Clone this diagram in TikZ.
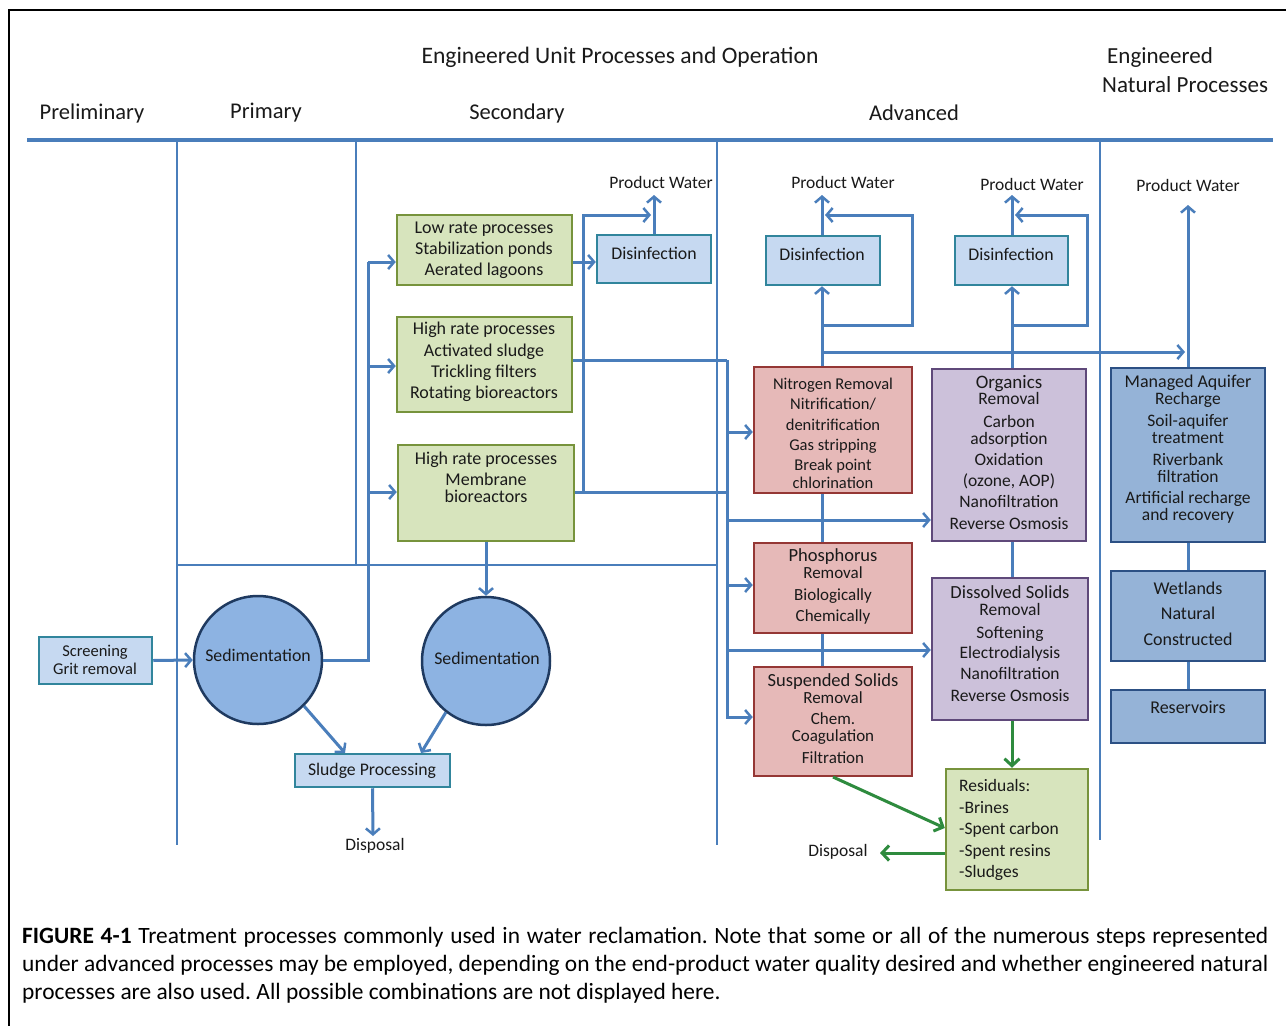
\documentclass[tikz,border=0pt]{standalone}
\usepackage{fontspec}
\setmainfont{Carlito}
\usetikzlibrary{arrows.meta}
\definecolor{wirec}{HTML}{4A7EBB}
\definecolor{grnfill}{HTML}{D7E4BD}
\definecolor{grndraw}{HTML}{77933C}
\definecolor{redfill}{HTML}{E6B9B8}
\definecolor{reddraw}{HTML}{953735}
\definecolor{purfill}{HTML}{CCC1DA}
\definecolor{purdraw}{HTML}{5F497A}
\definecolor{natfill}{HTML}{95B3D7}
\definecolor{natdraw}{HTML}{2C5084}
\definecolor{disfill}{HTML}{C6D9F1}
\definecolor{disdraw}{HTML}{31859C}
\definecolor{sedfill}{HTML}{8DB3E2}
\definecolor{seddraw}{HTML}{1F3A60}
\definecolor{resarr}{HTML}{2E8B3E}
\definecolor{txtc}{HTML}{1A1A1A}
\newcommand\myfs[2]{\fontsize{#1}{#2}\selectfont}
\frenchspacing
\begin{document}
\begin{tikzpicture}[x=1pt,y=-1pt,
  wire/.style={draw=wirec,line width=3pt},
  rulerline/.style={draw=wirec,line width=2.5pt},
  arr/.style={wire,-{Straight Barb[length=6pt,width=14pt,line width=2.5pt]}},
  garr/.style={draw=resarr,line width=3pt,-{Straight Barb[length=7pt,width=15pt,line width=3pt]}},
  box/.style 2 args={draw,line width=2.5pt,inner sep=0pt,minimum width=#1pt,minimum height=#2pt},
  grnbox/.style={fill=grnfill,draw=grndraw},
  redbox/.style={fill=redfill,draw=reddraw},
  purbox/.style={fill=purfill,draw=purdraw},
  natbox/.style={fill=natfill,draw=natdraw},
  disbox/.style={fill=disfill,draw=disdraw},
  sedc/.style={circle,draw=seddraw,fill=sedfill,line width=2.5pt,minimum size=128pt,inner sep=0pt},
  tx/.style={align=center,inner sep=0pt,text=txtc},
  hd/.style={inner sep=0pt,text=txtc,font=\myfs{22.5}{26}},
  captxt/.style={anchor=west,inner sep=0pt,text=black,font=\myfs{23.4}{28}},
]
\useasboundingbox (0,0) rectangle (1286,1026);
\fill[white] (0,0) rectangle (1286,1026);
\draw[line width=2pt,black] (1286,10) -- (9,10) -- (9,1026);

% headers
\node[hd,font=\myfs{23.6}{26}] (hEng) at (620,57) {Engineered Unit Processes and Operation};
\node[hd,anchor=west,font=\myfs{23}{26}] (hNat1) at (1107,57) {Engineered};
\node[hd,anchor=west,font=\myfs{23}{26}] (hNat2) at (1102,85) {Natural Processes};
\node[hd] (hPre) at (92,113) {Preliminary};
\node[hd] (hPri) at (266,113) {Primary};
\node[hd] (hSec) at (517,113) {Secondary};
\node[hd] (hAdv) at (914,113) {Advanced};

% rules
\draw[wire,line width=3.5pt] (27,140) -- (1273,140);
\draw[rulerline] (177,140) -- (177,845);
\draw[rulerline] (356,140) -- (356,565);
\draw[rulerline] (177,565) -- (717,565);
\draw[rulerline] (717,140) -- (717,845);
\draw[rulerline] (1100,140) -- (1100,840);

% boxes
\node[box={113}{47},disbox] (screen) at (95.5,660.5) {};
\node[sedc] (sed1) at (258,660) {};
\node[sedc] (sed2) at (486,661) {};
\node[box={155}{33},disbox] (sludge) at (372.5,770.5) {};
\node[box={175}{70},grnbox] (lowrate) at (484.5,250) {};
\node[box={175}{95},grnbox] (highrate) at (484.5,364.5) {};
\node[box={176}{96},grnbox] (membr) at (486,493) {};
\node[box={114}{48},disbox] (dis1) at (654,259) {};
\node[box={114}{49},disbox] (dis2) at (823,260.5) {};
\node[box={113}{49},disbox] (dis3) at (1011.5,260.5) {};
\node[box={158}{126},redbox] (nitro) at (833,430) {};
\node[box={158}{90},redbox] (phos) at (833,588) {};
\node[box={158}{109},redbox] (susp) at (833,721.5) {};
\node[box={154}{172},purbox] (organ) at (1009,455) {};
\node[box={156}{142},purbox] (dissol) at (1010,649) {};
\node[box={142}{121},grnbox] (resid) at (1017,829.5) {};
\node[box={154}{174},natbox] (mar) at (1188,455) {};
\node[box={154}{90},natbox] (wet) at (1188,616) {};
\node[box={154}{53},natbox] (resv) at (1188,716.5) {};

% texts
\node[tx,font=\myfs{16.5}{18}] (tScr) at (95,660) {Screening\\Grit removal};
\node[tx,font=\myfs{17.8}{20}] (tSed1) at (258,655) {Sedimentation};
\node[tx,font=\myfs{17.8}{20}] (tSed2) at (487,658) {Sedimentation};
\node[tx,font=\myfs{17.7}{20}] (tSlu) at (372,771) {Sludge Processing};
\node[tx,font=\myfs{17.5}{20}] (tDsp1) at (375,846) {Disposal};
\node[tx,font=\myfs{17.5}{20}] (tDsp2) at (838,852) {Disposal};
\node[tx,font=\myfs{18}{21}] (tLow) at (484,250) {Low rate processes\\Stabilization ponds\\Aerated lagoons};
\node[tx,font=\myfs{18}{21.3}] (tHigh) at (484,362) {High rate processes\\Activated sludge\\Trickling filters\\Rotating bioreactors};
\node[tx,font=\myfs{18}{17}] (tMem) at (486,477) {High rate processes\\[4pt]Membrane\\bioreactors};
\node[tx,font=\myfs{17.8}{20}] (tDis1) at (654,253) {Disinfection};
\node[tx,font=\myfs{17.8}{20}] (tDis2) at (822,254) {Disinfection};
\node[tx,font=\myfs{17.8}{20}] (tDis3) at (1011,254) {Disinfection};
\node[tx,font=\myfs{17.5}{20}] (tPW1) at (661,182) {Product Water};
\node[tx,font=\myfs{17.5}{20}] (tPW2) at (843,182) {Product Water};
\node[tx,font=\myfs{17.5}{20}] (tPW3) at (1032,184) {Product Water};
\node[tx,font=\myfs{17.5}{20}] (tPW4) at (1188,185) {Product Water};
\node[tx,font=\myfs{16.5}{20.2}] (tNit) at (833,433.5) {Nitrogen Removal\\Nitrification/\\denitrification\\Gas stripping\\Break point\\[-2pt]chlorination};
\node[tx,font=\myfs{17}{17}] (tPho) at (833,586) {\myfs{18.5}{17}Phosphorus\\Removal\\[5pt]\myfs{17}{17}Biologically\\[4pt]Chemically};
\node[tx,font=\myfs{17}{17}] (tSus) at (833,718.5) {\myfs{18.5}{17}Suspended Solids\\Removal\\[4pt]\myfs{17}{17}Chem.\\Coagulation\\[5pt]Filtration};
\node[tx,font=\myfs{17.5}{17}] (tOrg) at (1009,452.5) {\myfs{19}{17}Organics\\[-1pt]Removal\\[6pt]\myfs{17.5}{17}Carbon\\adsorption\\[4pt]Oxidation\\[4pt](ozone, AOP)\\[4pt]Nanofiltration\\[5pt]Reverse Osmosis};
\node[tx,font=\myfs{17.5}{17}] (tDsl) at (1010,643.5) {\myfs{18.5}{17}Dissolved Solids\\Removal\\[6pt]\myfs{17.5}{17}Softening\\[3pt]Electrodialysis\\[4pt]Nanofiltration\\[5pt]Reverse Osmosis};
\node[tx,font=\myfs{17.5}{17}] (tMar) at (1188,449) {\myfs{18}{17}Managed Aquifer\\Recharge\\[5pt]\myfs{17.5}{17}Soil-aquifer\\treatment\\[5pt]Riverbank\\filtration\\[4pt]Artificial recharge\\and recovery};
\node[tx,font=\myfs{18}{25.5}] (tWet) at (1188,613.5) {Wetlands\\Natural\\Constructed};
\node[tx,font=\myfs{18}{20}] (tRsv) at (1188,707) {Reservoirs};
\node[tx,align=left,anchor=west,font=\myfs{17.5}{21.5}] (tRes) at (959,830) {Residuals:\\-Brines\\-Spent carbon\\-Spent resins\\-Sludges};

% coordinates
\coordinate (jA) at (368,660);
\coordinate (jB) at (368,262);
\coordinate (jC) at (368,366);
\coordinate (jD) at (368,492);
\coordinate (yLR) at (585,262);
\coordinate (pw1) at (654,195);
\coordinate (m1) at (583,492);
\coordinate (m2) at (583,215);
\coordinate (m3) at (651,215);
\coordinate (adv0) at (727,360);
\coordinate (adv1) at (727,492);
\coordinate (adv2) at (727,717);
\coordinate (b1) at (727,432);
\coordinate (b2) at (727,585);
\coordinate (b3) at (727,520);
\coordinate (b4) at (727,650);
\coordinate (n1) at (822,325);
\coordinate (n2) at (912,325);
\coordinate (n3) at (912,215);
\coordinate (n4) at (825,215);
\coordinate (pw2) at (822,195);
\coordinate (n5) at (822,352);
\coordinate (n6) at (1185,352);
\coordinate (o1) at (1012,325);
\coordinate (o2) at (1087,325);
\coordinate (o3) at (1087,215);
\coordinate (o4) at (1015,215);
\coordinate (pw3) at (1012,195);
\coordinate (pw4) at (1188,205);
\coordinate (g1) at (833,777);
\coordinate (g2) at (946,828);
\coordinate (g3) at (880,853);
\coordinate (sl1) at (345,753);
\coordinate (sl2) at (421,753);
\coordinate (dp1) at (373,836);

% preliminary / primary
\draw[arr] (screen.east) -- (sed1.west);
\draw[wire] (sed1.east) -- (jA) -- (jB);
\draw[arr] (jB) -- (lowrate.west |- jB);
\draw[arr] (jC) -- (highrate.west |- jC);
\draw[arr] (jD) -- (membr.west |- jD);
\draw[arr] (membr.south) -- (sed2.north);
\draw[arr] (sed1.-45) -- (sl1);
\draw[arr] (sed2.-128) -- (sl2);
\draw[arr] (sludge.south) -- (dp1);

% secondary
\draw[arr] (lowrate.east |- yLR) -- (dis1.west |- yLR);
\draw[arr] (dis1.north) -- (pw1);
\draw[wire] (membr.east |- m1) -- (adv1);
\draw[arr] (m1) -- (m2) -- (m3);
\draw[wire] (highrate.east |- adv0) -- (adv0);
\draw[arr] (adv0) -- (adv2) -- (susp.west |- adv2);
\draw[arr] (b1) -- (nitro.west |- b1);
\draw[arr] (b2) -- (phos.west |- b2);
\draw[arr] (b3) -- (organ.west |- b3);
\draw[arr] (b4) -- (dissol.west |- b4);

% advanced column 1
\draw[arr] (nitro.north -| n1) -- (dis2.south -| n1);
\draw[arr] (dis2.north -| n1) -- (pw2);
\draw[arr] (n1) -- (n2) -- (n3) -- (n4);
\draw[arr] (n5) -- (n6);
\draw[wire] (nitro.south -| n1) -- (phos.north -| n1);
\draw[wire] (phos.south -| n1) -- (susp.north -| n1);

% advanced column 2
\draw[arr] (organ.north -| o1) -- (dis3.south -| o1);
\draw[arr] (dis3.north -| o1) -- (pw3);
\draw[arr] (o1) -- (o2) -- (o3) -- (o4);
\draw[wire] (organ.south -| o1) -- (dissol.north -| o1);
\draw[garr] (dissol.south -| o1) -- (resid.north -| o1);
\draw[garr] (g1) -- (resid.west |- g2);
\draw[garr] (resid.west |- g3) -- (g3);

% natural
\draw[arr] (mar.north) -- (pw4);
\draw[wire] (mar.south) -- (wet.north);
\draw[wire] (wet.south) -- (resv.north);

% caption
\node[captxt] (cap1) at (22,937) {\makebox[1246pt][s]{\textbf{FIGURE 4-1} Treatment processes commonly used in water reclamation. Note that some or all of the numerous steps represented}};
\node[captxt] (cap2) at (22,965) {\makebox[1246pt][s]{under advanced processes may be employed, depending on the end-product water quality desired and whether engineered natural}};
\node[captxt] (cap3) at (22,993) {processes are also used. All possible combinations are not displayed here.};
\end{tikzpicture}
\end{document}
